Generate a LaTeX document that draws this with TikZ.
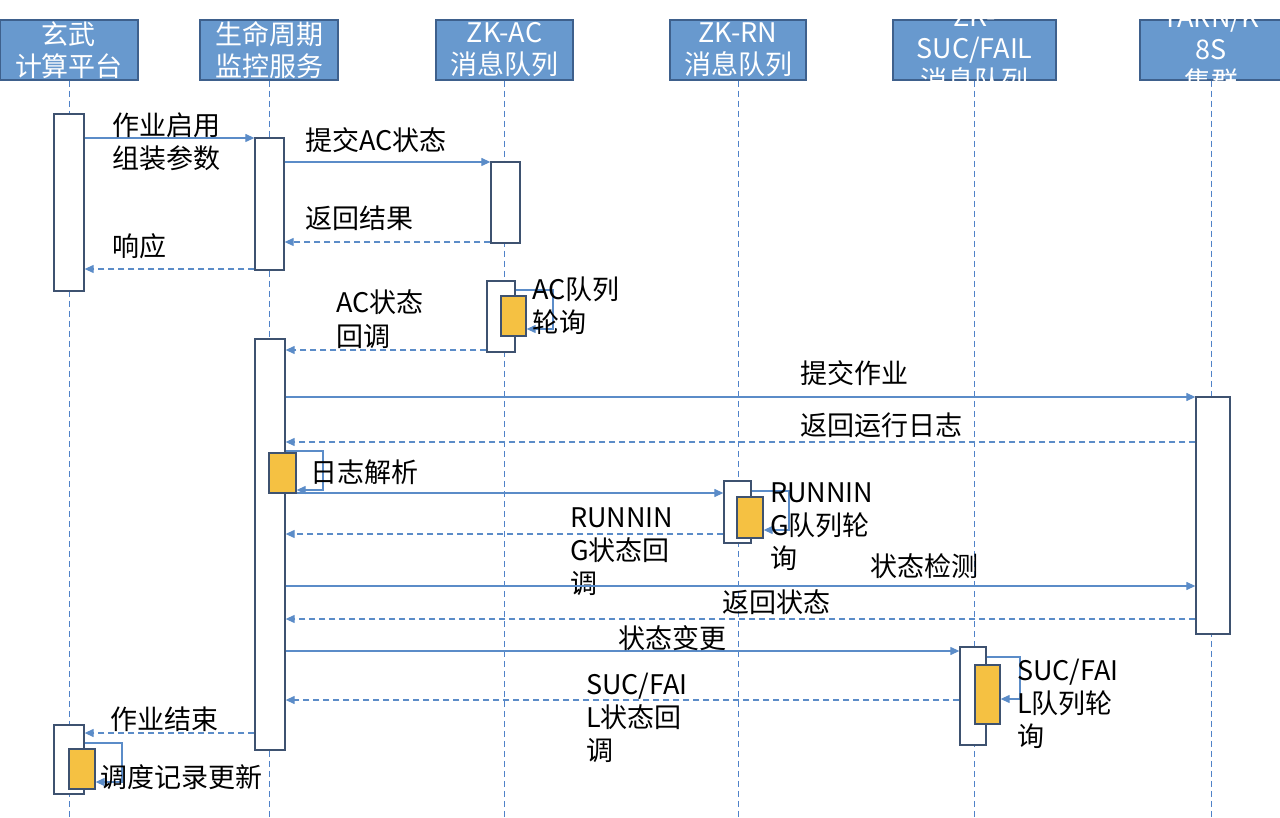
\documentclass[tikz,border=0pt]{standalone}
\usepackage{fontspec}
\setmainfont{Noto Sans CJK SC}
\usepackage{xcolor}
\usepackage{tikz}
\usetikzlibrary{positioning,calc,arrows.meta}

\definecolor{hdrblue}{RGB}{104,153,206}
\definecolor{hdredge}{RGB}{62,96,140}
\definecolor{msgblue}{RGB}{91,140,200}
\definecolor{lineblue}{RGB}{80,130,200}
\definecolor{actedge}{RGB}{62,82,112}
\definecolor{pollorange}{RGB}{245,193,66}

\begin{document}
\begin{tikzpicture}[x=1pt,y=-1pt,
    hdr/.style={draw=hdredge, fill=hdrblue, line width=1.5pt, minimum width=137, minimum height=60, inner sep=0pt},
    hdrtext/.style={text=white, font=\fontsize{27}{32}\selectfont, align=center, inner sep=0pt},
    act/.style={draw=actedge, fill=white, line width=1.3pt, inner sep=0pt},
    poll/.style={draw=actedge, fill=pollorange, line width=1.3pt, inner sep=0pt},
    lifeline/.style={draw=lineblue, dash pattern=on 6pt off 4pt, line width=1pt},
    msg/.style={draw=msgblue, line width=1.2pt, -{Triangle[length=9pt,width=8pt]}},
    reply/.style={msg, dash pattern=on 6pt off 4pt},
    lbl/.style={font=\fontsize{27}{33}\selectfont, anchor=base west, align=left, inner sep=0pt}]
    \useasboundingbox (0,0) rectangle (1280,818);

    % Headers
    \node[hdr, minimum width=138] (hxw) at (69,50) {};
    \node[hdr, minimum width=138] (hsm) at (269,50) {};
    \node[hdr] (hac) at (504.5,50) {};
    \node[hdr, minimum width=136] (hrn) at (738,50) {};
    \node[hdr, minimum width=163] (hsuc) at (974.5,50) {};
    \node[hdr, minimum width=142] (hyarn) at (1211,50) {};

    % Lifelines
    \foreach \h in {hxw,hsm,hac,hrn,hsuc,hyarn}
        \draw[lifeline] (\h.south) -- (\h.south |- 0,818);

    \node[hdrtext] (txw) at (hxw) {玄武\\计算平台};
    \node[hdrtext] (tsm) at (hsm) {生命周期\\监控服务};
    \node[hdrtext] (tac) at (hac) {ZK-AC\\消息队列};
    \node[hdrtext] (trn) at (hrn) {ZK-RN\\消息队列};
    \node[hdrtext] (tsuc) at (hsuc) {ZK-\\SUC/FAIL\\消息队列};
    \node[hdrtext] (tyarn) at (hyarn) {YARN/K\\8S\\集群};

    % Activations
    \node[act, minimum width=30, minimum height=177] (xw1) at (69,202.5) {};
    \node[act, minimum width=29, minimum height=132] (sm1) at (269.5,204) {};
    \node[act, minimum width=29, minimum height=81] (ac1) at (505.5,202.5) {};
    \node[act, minimum width=28, minimum height=71] (ac2) at (501,316.5) {};
    \node[poll, minimum width=25, minimum height=40] (ac2o) at (513.5,316) {};
    \node[act, minimum width=30, minimum height=411] (sm2) at (270,544.5) {};
    \node[poll, minimum width=27, minimum height=40] (sm2o) at (282.5,473) {};
    \node[act, minimum width=34, minimum height=237] (yarn1) at (1213,515.5) {};
    \node[act, minimum width=27, minimum height=62] (rn1) at (737.5,512) {};
    \node[poll, minimum width=26, minimum height=41] (rn1o) at (750,517.5) {};
    \node[act, minimum width=26, minimum height=98] (suc1) at (973,696) {};
    \node[poll, minimum width=25, minimum height=59] (suc1o) at (987.5,694.5) {};
    \node[act, minimum width=30, minimum height=69] (xw2) at (69,759.5) {};
    \node[poll, minimum width=26, minimum height=40] (xw2o) at (82,769) {};

    % Start of the job
    \draw[msg] (xw1.east |- 0,138) -- (sm1.west |- 0,138);
    \node[lbl] (m1) at (112,169) {作业启用\\组装参数};
    \draw[msg] (sm1.east |- 0,162) -- (ac1.west |- 0,162);
    \node[lbl] (m2) at (305,151) {提交AC状态};
    \draw[reply] (ac1.west |- 0,242) -- (sm1.east |- 0,242);
    \node[lbl] (m3) at (305,229) {返回结果};
    \draw[reply] (sm1.west |- 0,269) -- (xw1.east |- 0,269);
    \node[lbl] (m4) at (112,257) {响应};

    % AC queue
    \draw[msg] (ac2.east |- 0,290) -| (553,329) -- (ac2o.east |- 0,329);
    \node[lbl] (m5) at (532,333) {AC队列\\轮询};
    \draw[reply] (ac2.west |- 0,350) -- (sm2.east |- 0,350);
    \node[lbl] (m6) at (336,346) {AC状态\\回调};

    % Running on the cluster
    \draw[msg] (sm2.east |- 0,397) -- (yarn1.west |- 0,397);
    \node[lbl] (m7) at (800,383) {提交作业};
    \draw[reply] (yarn1.west |- 0,442) -- (sm2.east |- 0,442);
    \node[lbl] (m8) at (800,435) {返回运行日志};
    \draw[msg] (sm2.east |- 0,451) -| (323,490) -- (sm2o.east |- 0,490);
    \node[lbl] (m9) at (310,482) {日志解析};
    \draw[msg] (sm2o.east |- 0,493) -- (rn1.west |- 0,493);
    \draw[msg] (rn1.east |- 0,491) -| (789,530) -- (rn1o.east |- 0,530);
    \node[lbl] (m10) at (770,568) {RUNNIN\\G队列轮\\询};
    \draw[reply] (rn1.west |- 0,534) -- (sm2.east |- 0,534);
    \node[lbl] (m11) at (570,593) {RUNNIN\\G状态回\\调};
    \draw[msg] (sm2.east |- 0,586) -- (yarn1.west |- 0,586);
    \node[lbl] (m12) at (870,576) {状态检测};
    \draw[reply] (yarn1.west |- 0,619) -- (sm2.east |- 0,619);
    \node[lbl] (m13) at (722,612) {返回状态};

    % Final state
    \draw[msg] (sm2.east |- 0,651) -- (suc1.west |- 0,651);
    \node[lbl] (m14) at (618,648) {状态变更};
    \draw[msg] (suc1.east |- 0,657) -| (1020,699) -- (suc1o.east |- 0,699);
    \node[lbl] (m15) at (1017,746) {SUC/FAI\\L队列轮\\询};
    \draw[reply] (suc1.west |- 0,700) -- (sm2.east |- 0,700);
    \node[lbl] (m16) at (586,760) {SUC/FAI\\L状态回\\调};
    \draw[reply] (sm2.west |- 0,733) -- (xw2.east |- 0,733);
    \node[lbl] (m17) at (110,729) {作业结束};
    \draw[msg] (xw2.east |- 0,743) -| (122,782) -- (xw2o.east |- 0,782);
    \node[lbl] (m18) at (100,787) {调度记录更新};
\end{tikzpicture}
\end{document}
